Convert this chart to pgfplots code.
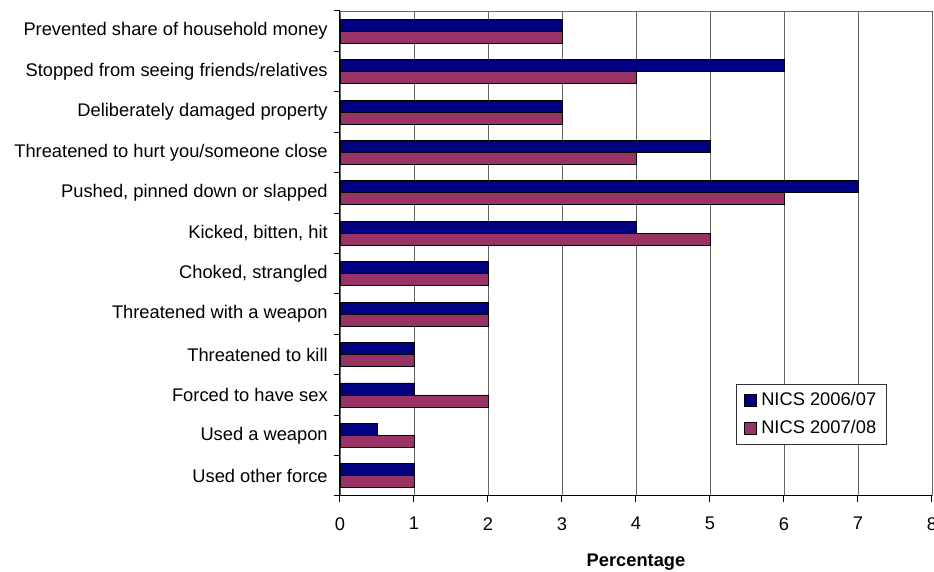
\documentclass[border=0pt]{standalone}
\usepackage{fontspec}
\setmainfont{Liberation Sans}
\usepackage{pgfplots}
\pgfplotsset{compat=1.18}
\definecolor{navyb}{HTML}{000080}
\definecolor{plum}{HTML}{993366}
\begin{document}
\fontsize{18.3pt}{22pt}\selectfont
\begin{tikzpicture}
\useasboundingbox[fill=white] (0,0) rectangle (934pt,572pt);
\begin{axis}[
    at={(340pt,76pt)}, anchor=south west,
    scale only axis, width=592pt, height=485pt,
    font=\fontsize{18.3pt}{22pt}\selectfont,
    xbar, bar width=12pt,
    xmin=0, xmax=8, ymin=-0.5, ymax=11.5,
    xtick={0,...,8},
    ytick={0,...,11},
    yticklabels={Used other force, Used a weapon, Forced to have sex,
        Threatened to kill, Threatened with a weapon, {Choked, strangled},
        {Kicked, bitten, hit}, {Pushed, pinned down or slapped},
        Threatened to hurt you/someone close, Deliberately damaged property,
        Stopped from seeing friends/relatives, Prevented share of household money},
    minor ytick={-0.5,0.5,...,11.5},
    every major y tick/.append style={draw=none},
    tick align=outside, major tick length=6pt, minor tick length=6pt,
    tick style={black, line width=1pt},
    xticklabel style={yshift=-9pt},
    axis x line*=bottom, axis y line*=left,
    axis line style={-, black, line width=1pt},
    xmajorgrids, grid style={black!60, line width=0.8pt},
    /pgf/number format/assume math mode=true,
    xlabel={\textbf{Percentage}},
    xlabel style={yshift=-11pt},
    legend style={at={(0.669,0.231)}, anchor=north west, draw=black!80,
        line width=0.8pt, inner xsep=8pt, inner ysep=6pt, row sep=8pt,
        font=\fontsize{18.3pt}{22pt}\selectfont},
    legend cell align=left,
    legend image code/.code={\draw[#1, draw=black, line width=0.8pt] (0pt,-6pt) rectangle (12pt,6pt);},
]
\draw[black!60, line width=0.8pt] (rel axis cs:0,1) -- (rel axis cs:1,1);
\addplot[fill=navyb, draw=black, line width=0.8pt, bar shift=6pt] coordinates {
    (1,0) (0.5,1) (1,2) (1,3) (2,4) (2,5) (4,6) (7,7) (5,8) (3,9) (6,10) (3,11)
};
\addplot[fill=plum, draw=black, line width=0.8pt, bar shift=-6pt] coordinates {
    (1,0) (1,1) (2,2) (1,3) (2,4) (2,5) (5,6) (6,7) (4,8) (3,9) (4,10) (3,11)
};
\legend{\hspace{2pt}NICS 2006/07, \hspace{2pt}NICS 2007/08}
\end{axis}
\end{tikzpicture}
\end{document}
